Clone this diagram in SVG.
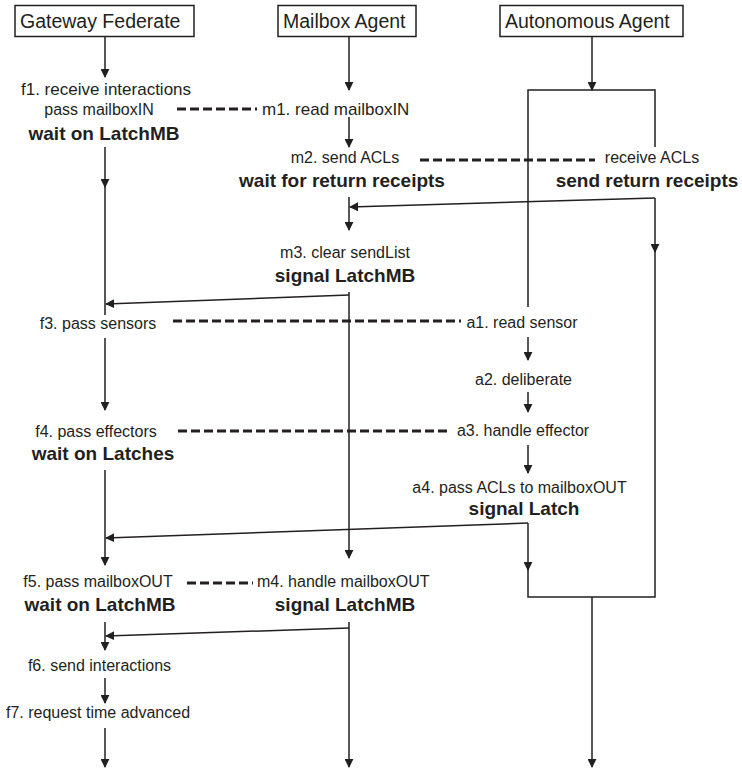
<svg xmlns="http://www.w3.org/2000/svg" width="742" height="770" viewBox="0 0 742 770">
  <style>
    .box { fill: #ffffff; stroke: #231f20; stroke-width: 1.5; }
    .hdr { font-family: "Liberation Sans", Arial, sans-serif; font-size: 19.5px; fill: #231f20; }
    .t { font-family: "Liberation Sans", Arial, sans-serif; font-size: 16px; fill: #231f20; text-anchor: middle; }
    .b { font-family: "Liberation Sans", Arial, sans-serif; font-size: 19px; font-weight: bold; fill: #231f20; text-anchor: middle; }
    .s { text-anchor: start; }
    .ln { fill: none; stroke: #231f20; stroke-width: 1.5; }
    .ar { fill: none; stroke: #231f20; stroke-width: 1.5; marker-end: url(#ah); }
    .dash { fill: none; stroke: #231f20; stroke-width: 3; stroke-dasharray: 9 4; }
  </style>
  <defs>
    <marker id="ah" viewBox="0 0 10 10" refX="9" refY="5" markerWidth="9" markerHeight="9" markerUnits="userSpaceOnUse" orient="auto">
      <path d="M0,0 L10,5 L0,10 z" fill="#231f20"/>
    </marker>
  </defs>
  <rect width="742" height="770" fill="#ffffff"/>

  <!-- lifeline headers -->
  <g id="gateway-federate">
    <rect class="box" x="15" y="5.5" width="179" height="31"/>
    <text class="hdr" x="20" y="28">Gateway Federate</text>
  </g>
  <g id="mailbox-agent">
    <rect class="box" x="278" y="5.5" width="138" height="31"/>
    <text class="hdr" x="283" y="28">Mailbox Agent</text>
  </g>
  <g id="autonomous-agent">
    <rect class="box" x="500" y="5.5" width="183" height="31"/>
    <text class="hdr" x="505" y="28">Autonomous Agent</text>
  </g>

  <!-- gateway federate steps -->
  <g id="f1">
    <text class="t" x="106" y="95" style="font-size:17px">f1. receive interactions</text>
    <text class="t" x="99" y="115">pass mailboxIN</text>
    <text class="b" x="104" y="140">wait on LatchMB</text>
  </g>
  <g id="f3"><text class="t" x="98" y="329">f3. pass sensors</text></g>
  <g id="f4">
    <text class="t" x="96" y="437">f4. pass effectors</text>
    <text class="b" x="103" y="460">wait on Latches</text>
  </g>
  <g id="f5">
    <text class="t" x="98" y="587">f5. pass mailboxOUT</text>
    <text class="b" x="100" y="611">wait on LatchMB</text>
  </g>
  <g id="f6"><text class="t" x="99.5" y="671">f6. send interactions</text></g>
  <g id="f7"><text class="t" x="98" y="718">f7. request time advanced</text></g>

  <!-- mailbox agent steps -->
  <g id="m1"><text class="t s" x="262" y="115" style="font-size:17px">m1. read mailboxIN</text></g>
  <g id="m2">
    <text class="t" x="345" y="163">m2. send ACLs</text>
    <text class="b" x="342" y="187">wait for return receipts</text>
  </g>
  <g id="m3">
    <text class="t" x="345" y="258">m3. clear sendList</text>
    <text class="b" x="345" y="282">signal LatchMB</text>
  </g>
  <g id="m4">
    <text class="t s" x="257" y="587">m4. handle mailboxOUT</text>
    <text class="b" x="345" y="611">signal LatchMB</text>
  </g>

  <!-- autonomous agent steps -->
  <g id="receive-acls">
    <text class="t" x="652" y="163">receive ACLs</text>
    <text class="b" x="647" y="187">send return receipts</text>
  </g>
  <g id="a1"><text class="t" x="522" y="328">a1. read sensor</text></g>
  <g id="a2"><text class="t" x="523.5" y="385">a2. deliberate</text></g>
  <g id="a3"><text class="t" x="523" y="436">a3. handle effector</text></g>
  <g id="a4">
    <text class="t" x="519.5" y="493">a4. pass ACLs to mailboxOUT</text>
    <text class="b" x="524" y="515">signal Latch</text>
  </g>

  <g id="connectors">
    <!-- gateway federate flow -->
    <line class="ar" x1="105" y1="36.5" x2="105" y2="77"/>
    <line class="ar" x1="105" y1="147" x2="105" y2="187"/>
    <line class="ln" x1="105" y1="186" x2="105" y2="315"/>
    <line class="ar" x1="105" y1="338" x2="105" y2="410"/>
    <line class="ar" x1="105" y1="470" x2="105" y2="565"/>
    <line class="ar" x1="105" y1="622" x2="105" y2="650"/>
    <line class="ar" x1="105" y1="678" x2="105" y2="703"/>
    <line class="ar" x1="105" y1="728" x2="105" y2="767"/>

    <!-- mailbox agent flow -->
    <line class="ar" x1="349" y1="36.5" x2="349" y2="90"/>
    <line class="ar" x1="349" y1="117" x2="349" y2="147"/>
    <line class="ar" x1="349" y1="197" x2="349" y2="230"/>
    <line class="ar" x1="349" y1="292" x2="349" y2="558"/>
    <line class="ar" x1="349" y1="622" x2="349" y2="767"/>

    <!-- autonomous agent loop -->
    <line class="ar" x1="592" y1="36.5" x2="592" y2="90"/>
    <polyline class="ln" points="528,307 528,90 655,90 655,147"/>
    <line class="ar" x1="655" y1="198" x2="655" y2="252"/>
    <polyline class="ln" points="655,251 655,597 528,597 528,569"/>
    <line class="ar" x1="528" y1="523" x2="528" y2="570"/>
    <line class="ar" x1="528" y1="337" x2="528" y2="360"/>
    <line class="ar" x1="528" y1="392" x2="528" y2="412"/>
    <line class="ar" x1="528" y1="445" x2="528" y2="473"/>
    <line class="ar" x1="592" y1="597" x2="592" y2="767"/>

    <!-- synchronisation signals -->
    <line class="ar" x1="655" y1="198" x2="350" y2="207"/>
    <line class="ar" x1="349" y1="295" x2="106" y2="304"/>
    <line class="ar" x1="528" y1="523" x2="106" y2="538"/>
    <line class="ar" x1="349" y1="628" x2="106" y2="636"/>

    <!-- message exchanges -->
    <line class="dash" x1="177" y1="109" x2="257" y2="109"/>
    <line class="dash" x1="420" y1="160" x2="595" y2="160"/>
    <line class="dash" x1="173" y1="321" x2="461" y2="321"/>
    <line class="dash" x1="178" y1="431" x2="447" y2="431"/>
    <line class="dash" x1="187" y1="583" x2="253" y2="583"/>
  </g>
</svg>
